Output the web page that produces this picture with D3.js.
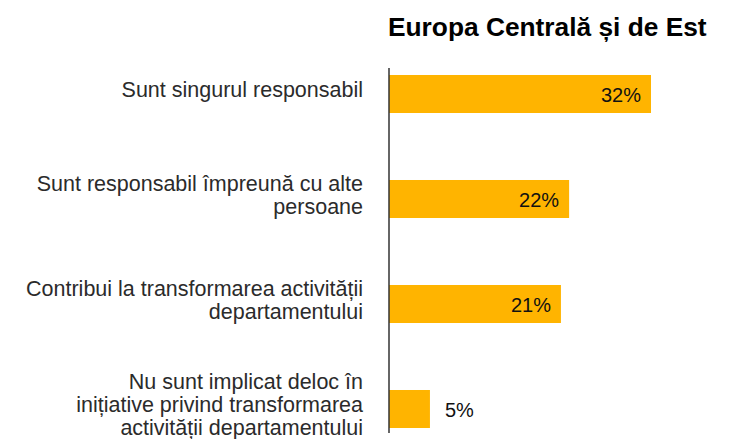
<!DOCTYPE html>
<meta charset="utf-8">
<style>
html, body {
    margin: 0;
    background: white;
}
svg text {
    font-family: "Liberation Sans", Arial, sans-serif;
}
.title {
    font-weight: bold;
    font-size: 26.3px;
    fill: #000;
}
.cat {
    font-size: 21.5px;
    fill: #2b2b2b;
}
.val {
    font-size: 20px;
    fill: #111;
}
</style>
<body>
<script src="https://cdn.jsdelivr.net/npm/d3@7"></script>
<script>

var width = 741,
    height = 439;

// chart data
var categories = [
    ["Sunt singurul responsabil"],
    ["Sunt responsabil împreună cu alte", "persoane"],
    ["Contribui la transformarea activității", "departamentului"],
    ["Nu sunt implicat deloc în", "inițiative privind transformarea", "activității departamentului"]
];
var values = [32, 22, 21, 5];
var titleText = "Europa Centrală și de Est";

var svg = d3.select("body").append("svg")
    .attr("width", width)
    .attr("height", height);

var x = d3.scaleLinear()
    .domain([0, 40])
    .range([389, 389 + 327.5]);

var y = d3.scaleBand()
    .domain(d3.range(values.length))
    .range([41.5, 461.5])
    .paddingInner(0.638)
    .paddingOuter(0.319);

svg.append("text")
    .attr("class", "title")
    .attr("x", 388)
    .attr("y", 36)
    .text(titleText);

svg.append("g")
  .selectAll("rect")
    .data(values)
  .enter().append("rect")
    .attr("x", x(0))
    .attr("y", (d, i) => y(i))
    .attr("width", d => x(d) - x(0))
    .attr("height", y.bandwidth())
    .attr("fill", "#FFB400");

// axis line
svg.append("line")
    .attr("x1", x(0))
    .attr("x2", x(0))
    .attr("y1", 68)
    .attr("y2", 433)
    .attr("stroke", "#333")
    .attr("stroke-width", 1.5);

// value labels: inside for long bars, outside for short ones
svg.append("g")
  .selectAll("text")
    .data(values)
  .enter().append("text")
    .attr("class", "val")
    .attr("x", d => d > 10 ? x(d) - 10 : x(d) + 15)
    .attr("y", (d, i) => y(i) + y.bandwidth() / 2 + 7.5)
    .attr("text-anchor", d => d > 10 ? "end" : "start")
    .text(d => d + "%");

// category labels
var lineH = 23;
var cats = svg.append("g")
  .selectAll("text")
    .data(categories)
  .enter().append("text")
    .attr("class", "cat")
    .attr("text-anchor", "end")
    .attr("x", 363)
    .attr("y", (d, i) => y(i) + y.bandwidth() / 2 + 3 - (d.length - 1) * lineH / 2);

cats.selectAll("tspan")
    .data(d => d)
  .enter().append("tspan")
    .attr("x", 363)
    .attr("dy", (d, i) => i === 0 ? 0 : lineH)
    .text(d => d);

</script>
</body>
